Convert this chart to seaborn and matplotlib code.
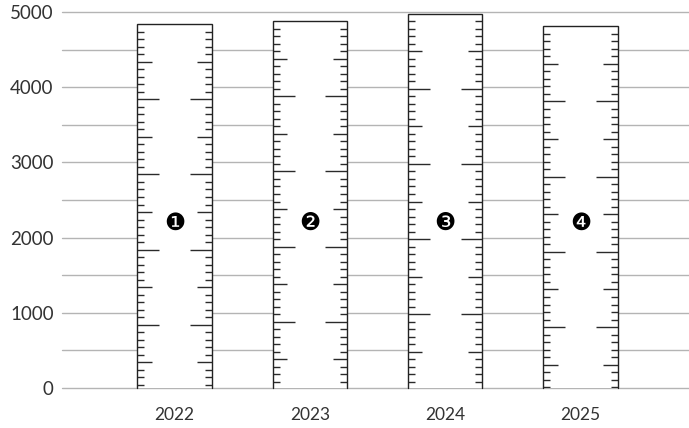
import numpy as np
import pandas as pd
import seaborn as sns
from matplotlib import pyplot as plt

years = ['2022', '2023', '2024', '2025']
values = [4840, 4880, 4980, 4810]
badges = ['\u2776', '\u2777', '\u2778', '\u2779']
badge_y = 2200
y_ticks = [0, 1000, 2000, 3000, 4000, 5000]
grid_levels = np.arange(0, 5001, 500)
ruler_step = 100

sns.set_style('white')
plt.rcParams['font.family'] = ['Lato', 'DejaVu Sans']

df = pd.DataFrame({'year': years, 'value': values})

f = plt.figure(figsize=(6.89, 4.28), dpi=100)
ax = f.add_axes([62/689, 1-388/428, 1-62/689, (388-12)/428])

for g in grid_levels:
    ax.axhline(g, color='#b4b4b4', lw=1, zorder=0, clip_on=False)

sns.barplot(data=df, x='year', y='value', color='white', width=0.55,
            linewidth=0, saturation=1, ax=ax, zorder=2)

# ruler style bars: outline without bottom edge + graduation ticks from the top
short, medium, long = 0.052, 0.107, 0.162
for p, b in zip(ax.patches, badges):
    x0 = p.get_x()
    x1 = x0 + p.get_width()
    top = p.get_height()
    ax.plot([x0, x0, x1, x1], [0, top, top, 0], color='#222222', lw=1,
            zorder=4, clip_on=False, solid_joinstyle='miter')
    k = np.arange(1, int(top // ruler_step) + 1)
    ys = top - k * ruler_step
    lens = np.where(k % 10 == 0, long, np.where(k % 5 == 0, medium, short))
    ax.hlines(ys, x0, x0 + lens, color='#2a2a2a', lw=1, zorder=3)
    ax.hlines(ys, x1 - lens, x1, color='#2a2a2a', lw=1, zorder=3)
    ax.text(x0 + p.get_width() / 2, badge_y, b, ha='center', va='center',
            fontsize=17, family='DejaVu Sans', color='black', zorder=5)

ax.set_ylim(0, 5000)
ax.set_xlim(-0.83, 3.8)
ax.set_yticks(y_ticks)
ax.set_xlabel('')
ax.set_ylabel('')
ax.tick_params(axis='y', length=0, pad=6, labelsize=13.5, colors='#333333')
ax.tick_params(axis='x', length=0, pad=14, labelsize=12.5, colors='#333333')
sns.despine(ax=ax, left=True, bottom=True)

f.savefig('out.png', dpi=100)
